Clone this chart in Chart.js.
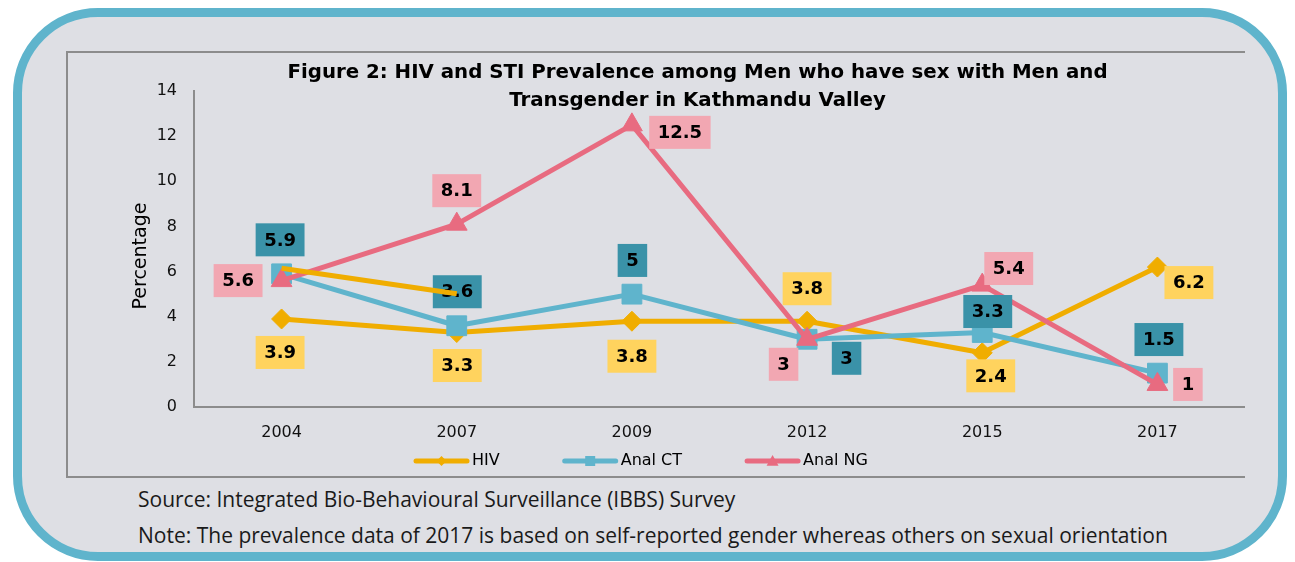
<!DOCTYPE html>
<html>
<head>
<meta charset="utf-8">
<script src="https://cdn.jsdelivr.net/npm/chart.js@4.4.1/dist/chart.umd.min.js"></script>
<style>
  html, body { margin: 0; padding: 0; background: #fff; width: 1295px; height: 562px; overflow: hidden; }
  #box {
    position: absolute; left: 13px; top: 8px; width: 1256px; height: 535px;
    border: 9px solid #5fb4cc; border-radius: 85px; background: #dedfe4;
  }
  #frame {
    position: absolute; left: 66px; top: 51px; width: 1177px; height: 423px;
    border: 2px solid #8c8c8c; border-right: none;
  }
  .note { position: absolute; left: 138px; font-family: "Open Sans", Lato, sans-serif; font-size: 21px; color: #1a1a1a; line-height: 24px; white-space: nowrap; }
</style>
</head>
<body>
<div id="box"></div>
<div id="frame"><canvas id="chart" width="1177" height="423"></canvas></div>
<div class="note" style="top:487px">Source: Integrated Bio-Behavioural Surveillance (IBBS) Survey</div>
<div class="note" style="top:523px">Note: The prevalence data of 2017 is based on self-reported gender whereas others on sexual orientation</div>
<script>
// --- Data ---
const years = ["2004", "2007", "2009", "2012", "2015", "2017"];
const hivValues = [3.9, 3.3, 3.8, 3.8, 2.4, 6.2];
const analCtValues = [5.9, 3.6, 5, 3, 3.3, 1.5];
const analNgValues = [5.6, 8.1, 12.5, 3, 5.4, 1];
// stray HIV-coloured segment over 2004-2007 in the original figure
const hivStrayValues = [6.15, 5.02, null, null, null, null];
const titleLines = ["Figure 2: HIV and STI Prevalence among Men who have sex with Men and", "Transgender in Kathmandu Valley"];

// label placement (pixel offsets from each point)
const hivLabelPos = [[-1.5, 33.5], [0.5, 33], [0, 35], [0, -32.5], [8.5, 23], [31.5, 15.5]];
const ctLabelPos = [[-1.5, -34], [0.5, -34], [0.5, -33.7], [39.5, 19], [5.5, -21], [1.5, -33.6]];
const ngLabelPos = [[-43.5, 0], [0, -33.5], [48, 7.5], [-23.5, 25], [26.5, -16.6], [30.5, 0]];

const HIV_COLOR = "#f0ad00";
const CT_COLOR = "#5fb4cc";
const NG_COLOR = "#e86b80";

const series = [
  { name: "HIV", values: hivValues, color: HIV_COLOR, labelFill: "#ffd35e", style: "rectRot", radius: 10, labels: hivLabelPos },
  { name: "Anal CT", values: analCtValues, color: CT_COLOR, labelFill: "#3a92a8", style: "rect", radius: 14, labels: ctLabelPos },
  { name: "Anal NG", values: analNgValues, color: NG_COLOR, labelFill: "#f2a7b2", style: "triangle", radius: 12, labels: ngLabelPos },
];

const datasets = series.map((s, i) => ({
  label: s.name,
  data: s.values,
  borderColor: s.color,
  backgroundColor: s.color,
  borderWidth: 5,
  borderJoinStyle: "round",
  tension: 0,
  pointStyle: s.style,
  pointRadius: s.radius,
  pointBorderWidth: 1,
  pointBackgroundColor: s.color,
  pointBorderColor: s.color,
  order: 3 - i,
}));
datasets.push({
  label: "stray",
  data: hivStrayValues,
  borderColor: HIV_COLOR,
  borderWidth: 5,
  pointRadius: 0,
  order: 0,
});

const TEXT_FONT = "'DejaVu Sans', sans-serif";

function drawMarker(ctx, style, x, y, r, color) {
  ctx.fillStyle = color;
  ctx.beginPath();
  if (style === "rectRot") {
    ctx.moveTo(x, y - r); ctx.lineTo(x + r, y); ctx.lineTo(x, y + r); ctx.lineTo(x - r, y);
  } else if (style === "rect") {
    ctx.rect(x - r, y - r, 2 * r, 2 * r);
  } else {
    ctx.moveTo(x, y - r); ctx.lineTo(x + r, y + r * 0.8); ctx.lineTo(x - r, y + r * 0.8);
  }
  ctx.closePath();
  ctx.fill();
}

const labelPlugin = {
  id: "valueLabels",
  afterDatasetDraw(chart, args) {
    if (args.index !== 2) return; // after Anal NG, before the stray segment
    const ctx = chart.ctx;
    ctx.save();
    ctx.font = "bold 18px " + TEXT_FONT;
    ctx.textAlign = "center";
    ctx.textBaseline = "middle";
    series.forEach((s, i) => {
      const meta = chart.getDatasetMeta(i);
      meta.data.forEach((pt, j) => {
        const txt = String(s.values[j]);
        const w = ctx.measureText(txt).width + 17;
        const h = 33;
        const cx = pt.x + s.labels[j][0];
        const cy = pt.y + s.labels[j][1];
        ctx.fillStyle = s.labelFill;
        ctx.fillRect(cx - w / 2, cy - h / 2, w, h);
        ctx.fillStyle = "#000";
        ctx.fillText(txt, cx, cy + 1);
      });
    });
    ctx.restore();
  },
  afterDraw(chart) {
    const ctx = chart.ctx;
    ctx.save();
    // title
    ctx.fillStyle = "#000";
    ctx.font = "bold 19.8px " + TEXT_FONT;
    ctx.textAlign = "center";
    ctx.textBaseline = "middle";
    ctx.fillText(titleLines[0], 629.5, 20);
    ctx.fillText(titleLines[1], 629.5, 48);
    // y axis title
    ctx.font = "19px " + TEXT_FONT;
    ctx.translate(73, 203);
    ctx.rotate(-Math.PI / 2);
    ctx.fillText("Percentage", 0, 0);
    ctx.restore();

    // legend
    ctx.save();
    ctx.font = "16px " + TEXT_FONT;
    ctx.textBaseline = "middle";
    ctx.textAlign = "left";
    let x = 346;
    const y = 408;
    const legendSizes = [5, 5, 6];
    series.forEach((s, i) => {
      ctx.strokeStyle = s.color;
      ctx.lineWidth = 5;
      ctx.lineCap = "round";
      ctx.beginPath();
      ctx.moveTo(x + 2, y);
      ctx.lineTo(x + 53, y);
      ctx.stroke();
      drawMarker(ctx, s.style, x + 27.5, y, legendSizes[i], s.color);
      ctx.fillStyle = "#000";
      ctx.fillText(s.name, x + 58, y);
      x += 58 + ctx.measureText(s.name).width + 63;
    });
    ctx.restore();
  },
};

new Chart(document.getElementById("chart").getContext("2d"), {
  type: "line",
  data: { labels: years, datasets },
  plugins: [labelPlugin],
  options: {
    responsive: false,
    animation: false,
    layout: { autoPadding: false, padding: { top: 38, right: 0, left: 0, bottom: 0 } },
    plugins: { legend: { display: false }, title: { display: false }, tooltip: { enabled: false } },
    scales: {
      x: {
        offset: true,
        grid: { display: false, drawTicks: false },
        border: { display: true, color: "#8c8c8c", width: 2 },
        ticks: { color: "#111", font: { family: TEXT_FONT, size: 16 }, padding: 16 },
        afterFit: (s) => { s.height = 69; },
      },
      y: {
        min: 0,
        max: 14,
        grid: { display: false, drawTicks: false },
        border: { display: true, color: "#8c8c8c", width: 2 },
        ticks: { stepSize: 2, color: "#111", font: { family: TEXT_FONT, size: 16 }, padding: 17 },
        afterFit: (s) => { s.width = 126; },
      },
    },
  },
});
</script>
</body>
</html>
